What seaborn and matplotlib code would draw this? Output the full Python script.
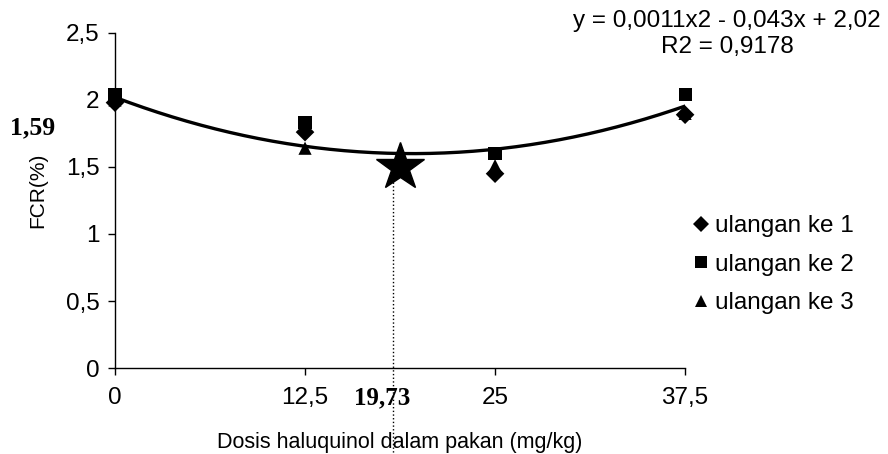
import numpy as np
import pandas as pd
import matplotlib
matplotlib.use('Agg')
import matplotlib.pyplot as plt
import seaborn as sns

# ============================================================
# DATA
# ============================================================

dosis = [0, 12.5, 25, 37.5]
ulangan_1 = [1.98, 1.76, 1.45, 1.89]
ulangan_2 = [2.04, 1.83, 1.60, 2.04]
ulangan_3 = [2.00, 1.64, 1.51, 1.90]
series_names = ['ulangan ke 1', 'ulangan ke 2', 'ulangan ke 3']

# trendline from the chart: y = 0,0011x2 - 0,043x + 2,02
trend_coef = [0.0011, -0.043, 2.02]

# hand-drawn optimum annotation (star, dotted guide, labels)
star_x, star_y = 18.75, 1.50
guide_x = 18.3
label_x_opt = '19,73'
label_y_opt = '1,59'

x_ticks = [0, 12.5, 25, 37.5]
x_tick_labels = ['0', '12,5', '25', '37,5']
y_ticks = [0, 0.5, 1, 1.5, 2, 2.5]
y_tick_labels = ['0', '0,5', '1', '1,5', '2', '2,5']

df = pd.DataFrame({
    'dosis': dosis * 3,
    'fcr': ulangan_1 + ulangan_2 + ulangan_3,
    'seri': [s for s in series_names for _ in dosis],
})

# ============================================================
# PLOT
# ============================================================

sns.set_style('white')
plt.rcParams['font.family'] = ['Liberation Sans', 'DejaVu Sans']
plt.rcParams['text.color'] = 'black'
plt.rcParams['axes.labelcolor'] = 'black'

fig = plt.figure(figsize=(8.88, 4.54), dpi=100)
ax = fig.add_axes([0.1295, 0.1894, 0.642, 0.738])

x_fit = np.linspace(dosis[0], dosis[-1], 200)
sns.lineplot(x=x_fit, y=np.polyval(trend_coef, x_fit), color='black',
             lw=2.4, ax=ax, zorder=2)

sns.scatterplot(data=df, x='dosis', y='fcr', style='seri', hue='seri',
                palette=['black'] * 3, markers=['D', 's', '^'],
                s=90, edgecolor='black', linewidth=0, ax=ax, zorder=3,
                clip_on=False)

# optimum marker and dotted guide line
ax.plot([star_x], [star_y], marker='*', ms=36, color='black', zorder=4)
ax.plot([guide_x, guide_x], [star_y - 0.11, -0.7], ls=':', lw=1,
        color='black', clip_on=False, zorder=1)

ax.set_xlim(0, 37.5)
ax.set_ylim(0, 2.5)
ax.set_xticks(x_ticks)
ax.set_xticklabels(x_tick_labels)
ax.set_yticks(y_ticks)
ax.set_yticklabels(y_tick_labels)
ax.tick_params(axis='both', direction='out', length=5, width=1, color='black',
               labelsize=17.5, labelcolor='black', bottom=True, left=True)
ax.tick_params(axis='x', pad=9)
ax.tick_params(axis='y', pad=6)

for side in ['top', 'right']:
    ax.spines[side].set_visible(False)
for side in ['left', 'bottom']:
    ax.spines[side].set_color('black')
    ax.spines[side].set_linewidth(1)

ax.set_xlabel('Dosis haluquinol dalam pakan (mg/kg)', fontsize=15.5)
ax.xaxis.set_label_coords(0.5, -0.19)
ax.set_ylabel('FCR(%)', fontsize=15)
ax.yaxis.set_label_coords(-0.118, 0.53)

ax.legend(loc='upper left', bbox_to_anchor=(0.985, 0.485), frameon=False,
          fontsize=17.5, handletextpad=0.0, labelspacing=0.68,
          markerscale=0.9, handlelength=1.2, borderaxespad=0)

fig.text(0.819, 0.925, 'y = 0,0011x2 - 0,043x + 2,02\nR2 = 0,9178',
         ha='center', va='center', fontsize=17.5, linespacing=1.25)

fig.text(0.037, 0.718, label_y_opt, family='Liberation Serif', weight='bold',
         fontsize=18.5, ha='center', va='center')
ax.text(17.6, -0.22, label_x_opt, family='Liberation Serif', weight='bold',
        fontsize=18, ha='center', va='center')

plt.savefig('out.png', dpi=100)
plt.close()
